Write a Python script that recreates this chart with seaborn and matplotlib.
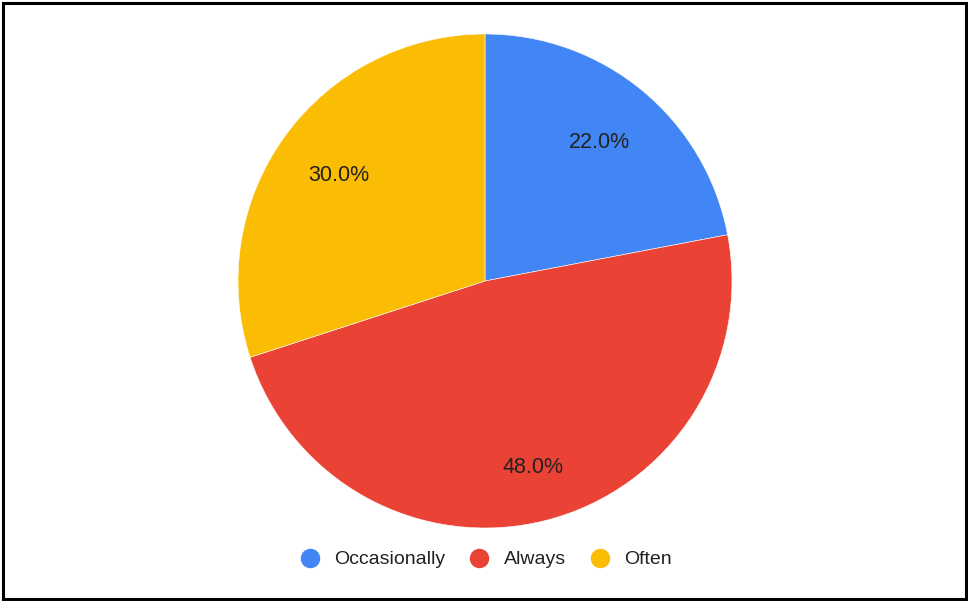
import matplotlib
matplotlib.use("Agg")
import numpy as np
import matplotlib.pyplot as plt
from matplotlib.lines import Line2D
from matplotlib.patches import Rectangle
import seaborn as sns

categories = ["Occasionally", "Always", "Often"]
shares = [22.0, 48.0, 30.0]
colors = ["#4285F4", "#EA4335", "#FBBC04"]

sns.set_theme(style="white")
plt.rcParams["font.family"] = ["Liberation Sans", "DejaVu Sans"]

W, H = 968, 601
fig = plt.figure(figsize=(W / 100, H / 100), dpi=100)

cx, cy, r = 485, 281, 247
ax = fig.add_axes([(cx - r) / W, (H - cy - r) / H, 2 * r / W, 2 * r / H])

wedges, texts, autotexts = ax.pie(
    shares,
    colors=colors,
    startangle=90,
    counterclock=False,
    radius=1.0,
    autopct="%.1f%%",
    pctdistance=0.73,
    wedgeprops=dict(edgecolor="white", linewidth=0.4),
    textprops=dict(fontsize=15.5, color="#222222"),
)

# radial placement of the percentage labels inside each slice
label_dist = [0.73, 0.78, 0.73]
for w, t, d in zip(wedges, autotexts, label_dist):
    ang = np.deg2rad((w.theta1 + w.theta2) / 2)
    t.set_position((d * np.cos(ang), d * np.sin(ang)))

ax.set_xlim(-1, 1)
ax.set_ylim(-1, 1)
ax.set_aspect("equal")
ax.axis("off")

handles = [
    Line2D([0], [0], marker="o", linestyle="none", markersize=13,
           markerfacecolor=c, markeredgecolor=c, label=lab)
    for c, lab in zip(colors, categories)
]
fig.legend(
    handles=handles,
    loc="center",
    bbox_to_anchor=(486 / W, 1 - 559.5 / H),
    ncol=3,
    frameon=False,
    fontsize=14,
    handlelength=1.0,
    handletextpad=0.74,
    columnspacing=1.25,
    labelcolor="#222222",
)

fig.patches.append(Rectangle((2.5 / W, 2.5 / H), (W - 5) / W, (H - 5) / H,
                             transform=fig.transFigure, fill=False,
                             edgecolor="black", linewidth=2.2))

fig.savefig("out.png", dpi=100)
